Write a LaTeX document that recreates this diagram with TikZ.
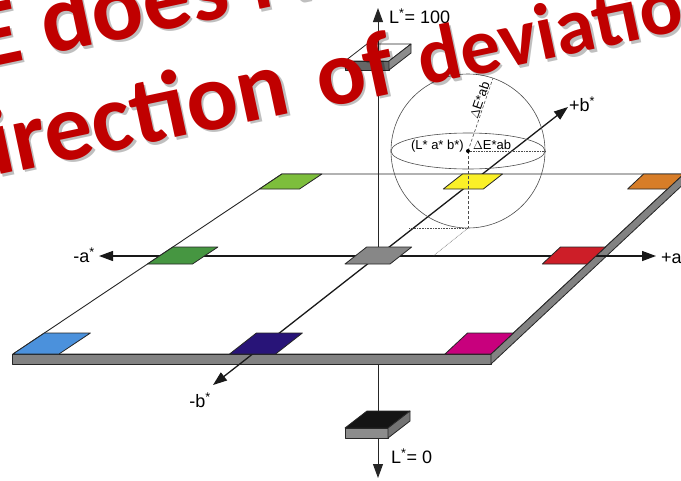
\documentclass[tikz,border=0pt]{standalone}
\usepackage{fontspec}
\setmainfont{Liberation Sans}
\newfontfamily\calib{Carlito}
\usetikzlibrary{arrows.meta}
\definecolor{limec}{RGB}{125,190,60}
\definecolor{yellowc}{RGB}{250,240,40}
\definecolor{orangec}{RGB}{215,125,40}
\definecolor{greenc}{RGB}{70,150,65}
\definecolor{grayc}{RGB}{135,135,135}
\definecolor{redc}{RGB}{205,30,40}
\definecolor{bluec}{RGB}{75,145,220}
\definecolor{navyc}{RGB}{40,20,120}
\definecolor{magc}{RGB}{200,0,125}
\definecolor{slabc}{RGB}{130,130,130}
\definecolor{redtxt}{RGB}{192,0,0}
\begin{document}
\begin{tikzpicture}[x=1pt,y=-1pt,line join=round,
  >={Triangle[length=14pt,width=10pt]},
  planeface/.style={fill=white,draw=black!85,line width=0.9pt},
  slabface/.style={fill=slabc,draw=black!85,line width=0.8pt},
  swatch/.style={draw=black!85,line width=0.8pt},
  axisline/.style={line width=1.3pt,draw=black!90},
  laxis/.style={line width=1pt,draw=black!85},
  sphereline/.style={line width=0.6pt,draw=black!70},
  guide/.style={line width=0.6pt,draw=black!70,densely dashed},
  dotguide/.style={line width=0.6pt,draw=black!70,densely dotted},
  lbl/.style={inner sep=0pt,font=\fontsize{18}{18}\selectfont},
  slbl/.style={inner sep=0pt,font=\fontsize{13}{13}\selectfont},
  bigred/.style={inner sep=0pt,anchor=base west,rotate=12,text=redtxt,
    font=\calib\bfseries\fontsize{#1}{#1}\selectfont},
  bigshadow/.style={bigred=#1,text=black,opacity=0.25}
]
\useasboundingbox (0,0) rectangle (681,480);
\clip (0,0) rectangle (681,480);

% key points
\coordinate (FL) at (13,354);
\coordinate (FR) at (491,354);
\coordinate (BR) at (683.6,174);
\coordinate (BL) at (281.9,174);

% plane and slab
\draw[planeface] (FL) -- (FR) -- (BR) -- (BL) -- cycle;
\draw[slabface] (12,354) -- (FR) -- (491,364) -- (12,364) -- cycle;
\draw[slabface] (FR) -- (BR) -- (683.6,184) -- (491,364) -- cycle;

% axes
\coordinate (am) at (99,256);
\coordinate (ap) at (656,256);
\coordinate (bm) at (213,385);
\coordinate (bp) at (568,107);
\coordinate (ctr) at (378,256);
\draw[axisline,<->] (am) -- (ap);
\draw[axisline,<->] (bm) -- (bp);

% L axis
\coordinate (ltop) at (378,8);
\coordinate (lbot) at (378,478);
\coordinate (tbc) at (378,52.5);
\coordinate (tbb) at (378,70);
\coordinate (bbc) at (378,419.5);
\coordinate (bbb) at (378,438);
\coordinate (slabb) at (378,364);
\draw[laxis] (tbb) -- (ctr);
\draw[laxis] (slabb) -- (bbc);

% top box
\draw[swatch,fill=white] (345,61) -- (389,61) -- (411,44) -- (367,44) -- cycle;
\draw[swatch,fill=black!60] (345,61) -- (389,61) -- (389,70) -- (345,70) -- cycle;
\draw[swatch,fill=black!45] (389,61) -- (411,44) -- (411,53) -- (389,70) -- cycle;
\draw[laxis,->] (tbc) -- (ltop);
% bottom box
\draw[swatch,fill=black!92] (345,428) -- (388,428) -- (410,411) -- (367,411) -- cycle;
\draw[swatch,fill=black!45] (345,428) -- (388,428) -- (388,438) -- (345,438) -- cycle;
\draw[swatch,fill=black!55] (388,428) -- (410,411) -- (410,421) -- (388,438) -- cycle;
\draw[laxis,->] (bbb) -- (lbot);

% swatches: bottom row
\draw[swatch,fill=bluec] (13,354) -- (59,354) -- (90.4,333) -- (44.4,333) -- cycle;
\draw[swatch,fill=navyc] (229.6,354) -- (275.6,354) -- (302.4,333) -- (256.4,333) -- cycle;
\draw[swatch,fill=magc] (445,354) -- (491,354) -- (513.5,333) -- (467.5,333) -- cycle;
% middle row
\draw[swatch,fill=greenc] (147.5,264) -- (192.5,264) -- (217.9,247) -- (172.9,247) -- cycle;
\draw[swatch,fill=grayc] (345,264) -- (390,264) -- (411.7,247) -- (366.7,247) -- cycle;
\draw[swatch,fill=redc] (542.3,264) -- (587.3,264) -- (605.5,247) -- (560.5,247) -- cycle;
% top row
\draw[swatch,fill=limec] (259.5,189) -- (299.5,189) -- (321.9,174) -- (281.9,174) -- cycle;
\draw[swatch,fill=yellowc] (443.3,189) -- (483.3,189) -- (502.5,174) -- (462.5,174) -- cycle;
\draw[swatch,fill=orangec] (627.6,189) -- (667.6,189) -- (683.6,174) -- (643.6,174) -- cycle;

% sphere
\coordinate (sc) at (468,151);
\coordinate (stop) at (493,78);
\coordinate (sright) at (545,151);
\coordinate (foot) at (468,228);
\coordinate (fb) at (409,228);
\coordinate (fa) at (433,256);
\draw[sphereline] (sc) circle[radius=77];
\draw[sphereline] (sc) ellipse[x radius=77, y radius=18];
\draw[guide] (sc) -- (foot);
\draw[guide] (sc) -- (stop);
\draw[dotguide] (sc) -- (sright);
\draw[dotguide] (fb) -- (foot);
\draw[dotguide] (foot) -- (fa);
\fill[black] (sc) circle[radius=2];

% labels
\node[lbl,anchor=west] (l100) at (389,16) {L\textsuperscript{*}= 100};
\node[lbl,anchor=west] (l0) at (391,456) {L\textsuperscript{*}= 0};
\node[lbl,anchor=east] (lam) at (95,255) {-a\textsuperscript{*}};
\node[lbl,anchor=west] (lap) at (661,256) {+a\textsuperscript{*}};
\node[lbl,anchor=west] (lbp) at (569,104) {+b\textsuperscript{*}};
\node[lbl] (lbm) at (200,400) {-b\textsuperscript{*}};
\node[slbl,anchor=base east] (lab) at (464,149) {(L* a* b*)};
\node[slbl,anchor=base west] (dE) at (473,149) {$\Delta$E*ab};
\node[slbl,anchor=south,rotate=71] (dEr) at (484,102) {$\Delta$E*ab};

% overlay red text (shadow first)
\node[bigshadow=96] (s1) at (-17.5,71.7) {E does N};
\node[bigshadow=96] (s2) at (-2.5,178.5) {irection};
\node[bigshadow=92] (s3) at (324.5,111) {of};
\node[bigshadow=80] (s4) at (425.5,88.5) {deviatio};
\node[bigred=96] (t1) at (-20,69.2) {E does N};
\node[bigred=96] (t2) at (-5,176) {irection};
\node[bigred=92] (t3) at (322,108.5) {of};
\node[bigred=80] (t4) at (423,86) {deviatio};
\end{tikzpicture}
\end{document}
